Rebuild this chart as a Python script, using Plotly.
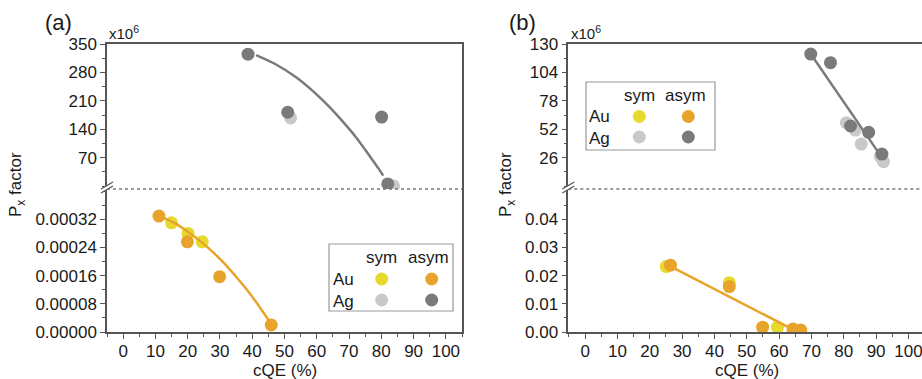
import plotly.graph_objects as go

W, H = 922, 379

# ---------------- data ----------------
# panel (a)
a_au_sym_x = [15.0, 20.1, 24.5]
a_au_sym_y = [0.000310, 0.000280, 0.000256]
a_au_asym_x = [11.1, 19.9, 29.9, 45.9]
a_au_asym_y = [0.000329, 0.000256, 0.000157, 0.0000199]
a_ag_sym_x = [51.9, 83.8]
a_ag_sym_y = [168.0, 0.5]          # x10^6
a_ag_asym_x = [38.7, 51.0, 80.1, 82.0]
a_ag_asym_y = [325.0, 182.0, 170.0, 5.5]
a_au_fit_x = [11.2, 16.0, 20.6, 25.5, 30.9, 35.0, 39.2, 42.5, 45.4]
a_au_fit_y = [0.000330, 0.000309, 0.000281, 0.000246, 0.000199, 0.000157, 0.000110,
              0.0000683, 0.0000292]
a_ag_fit_x = [41.2, 47.0, 53.6, 59.0, 63.9, 68.0, 72.2, 75.0, 77.3, 79.0, 80.6]
a_ag_fit_y = [322.8, 301.4, 268.0, 232.6, 195.0, 159.4, 120.0, 89.8, 64.0, 45.0, 26.0]

# panel (b)
b_au_sym_x = [25.1, 44.6, 59.5]
b_au_sym_y = [0.0232, 0.0175, 0.0017]
b_au_asym_x = [26.4, 44.6, 54.9, 64.3, 66.7]
b_au_asym_y = [0.0237, 0.0161, 0.0017, 0.0011, 0.0007]
b_ag_sym_x = [80.8, 83.6, 85.4, 91.3, 92.3]
b_ag_sym_y = [58.0, 51.3, 38.5, 27.0, 22.3]
b_ag_asym_x = [69.8, 75.9, 82.1, 87.7, 91.8]
b_ag_asym_y = [120.8, 112.9, 55.0, 49.2, 29.3]
b_au_fit_x = [26.4, 63.6]
b_au_fit_y = [0.0233, 0.0013]
b_ag_fit_x = [69.8, 91.6]
b_ag_fit_y = [120.8, 27.0]

x_ticks = list(range(0, 101, 10))
a_low_ticks = [0, 0.00008, 0.00016, 0.00024, 0.00032]
a_low_text = ["0.00000", "0.00008", "0.00016", "0.00024", "0.00032"]
a_up_ticks = [70, 140, 210, 280, 350]
b_low_ticks = [0, 0.01, 0.02, 0.03, 0.04]
b_low_text = ["0.00", "0.01", "0.02", "0.03", "0.04"]
b_up_ticks = [26, 52, 78, 104, 130]

# ---------------- style ----------------
C_YEL = "#e6da2c"
C_ORA = "#e8a42a"
C_LGR = "#c9c9c9"
C_DGR = "#7a7a7a"
C_AX = "#555555"
FONT = "Liberation Sans, Arial, sans-serif"
TXT = "#1a1a1a"
MS = 13

def px(x):
    return x / W

def py(y):
    return 1 - y / H

fig = go.Figure()

def pts(x, y, color, xa, ya):
    fig.add_trace(go.Scatter(x=x, y=y, mode="markers", xaxis=xa, yaxis=ya,
                             marker=dict(size=MS, color=color, line=dict(width=0)),
                             showlegend=False, hoverinfo="skip"))

def fit(x, y, color, xa, ya, spline=False):
    fig.add_trace(go.Scatter(x=x, y=y, mode="lines", xaxis=xa, yaxis=ya,
                             line=dict(color=color, width=2.5,
                                       shape="spline" if spline else "linear",
                                       smoothing=0.6),
                             showlegend=False, hoverinfo="skip"))

# panel a lower (x, y) / upper (x2, y2)
pts(a_au_sym_x, a_au_sym_y, C_YEL, "x", "y")
pts(a_au_asym_x, a_au_asym_y, C_ORA, "x", "y")
fit(a_au_fit_x, a_au_fit_y, C_ORA, "x", "y", spline=True)
pts(a_ag_sym_x, a_ag_sym_y, C_LGR, "x2", "y2")
pts(a_ag_asym_x, a_ag_asym_y, C_DGR, "x2", "y2")
fit(a_ag_fit_x, a_ag_fit_y, C_DGR, "x2", "y2", spline=True)

# panel b lower (x3, y3) / upper (x4, y4)
pts(b_au_sym_x, b_au_sym_y, C_YEL, "x3", "y3")
pts(b_au_asym_x, b_au_asym_y, C_ORA, "x3", "y3")
fit(b_au_fit_x, b_au_fit_y, C_ORA, "x3", "y3")
pts(b_ag_sym_x, b_ag_sym_y, C_LGR, "x4", "y4")
pts(b_ag_asym_x, b_ag_asym_y, C_DGR, "x4", "y4")
fit(b_ag_fit_x, b_ag_fit_y, C_DGR, "x4", "y4")

tickfont = dict(family=FONT, size=17, color=TXT)
AXL = dict(showline=True, linecolor=C_AX, linewidth=1.5, showgrid=False, zeroline=False,
           automargin=False)
minor_x = dict(dtick=5, tick0=0, ticks="outside", ticklen=3, tickcolor=C_AX, tickwidth=1, showgrid=False)
TK = dict(ticks="outside", ticklen=5, tickwidth=1.2, tickcolor=C_AX, tickfont=tickfont,
          ticklabeloverflow="allow")
TKX = dict(TK, ticklabelstandoff=-2)

dom_a = [px(107), px(462)]
dom_b = [px(568.3), 1.0]
dom_up = [py(189), py(44)]
dom_lo = [py(332), py(189)]

fig.update_layout(
    width=W, height=H, margin=dict(l=0, r=0, t=0, b=0, autoexpand=False),
    paper_bgcolor="white", plot_bgcolor="rgba(0,0,0,0)",
    font=dict(family=FONT, size=17, color=TXT),
    showlegend=False,
    xaxis=dict(**AXL, **TKX, domain=dom_a, range=[-5, 105], anchor="y", tickvals=x_ticks,
               minor=minor_x),
    yaxis=dict(**AXL, **TK, domain=dom_lo, range=[0, 0.000406], anchor="x",
               tickvals=a_low_ticks, ticktext=a_low_text,
               minor=dict(dtick=0.00004, tick0=0, ticks="outside", ticklen=3, tickcolor=C_AX),
               mirror=True),
    xaxis2=dict(**AXL, domain=dom_a, range=[-5, 105], anchor="y2", side="top",
                ticks="", showticklabels=False),
    yaxis2=dict(**AXL, **TK, domain=dom_up, range=[-7, 350], anchor="x2", tickvals=a_up_ticks,
                minor=dict(dtick=35, tick0=0, ticks="outside", ticklen=3, tickcolor=C_AX),
                mirror=True),
    xaxis3=dict(**AXL, **TKX, domain=dom_b, range=[-5.2, 104.2], anchor="y3", tickvals=x_ticks,
                minor=minor_x),
    yaxis3=dict(**AXL, **TK, domain=dom_lo, range=[0, 0.0507], anchor="x3",
                tickvals=b_low_ticks, ticktext=b_low_text,
                minor=dict(dtick=0.005, tick0=0, ticks="outside", ticklen=3, tickcolor=C_AX)),
    xaxis4=dict(**AXL, domain=dom_b, range=[-5.2, 104.2], anchor="y4", side="top",
                ticks="", showticklabels=False),
    yaxis4=dict(**AXL, **TK, domain=dom_up, range=[-2.6, 130], anchor="x4", tickvals=b_up_ticks,
                minor=dict(dtick=13, tick0=0, ticks="outside", ticklen=3, tickcolor=C_AX)),
)

shapes = []
annots = []

# dotted break lines
for xa, ya in (("x2", "y2"), ("x4", "y4")):
    shapes.append(dict(type="line", xref=f"{xa} domain", yref=f"{ya} domain",
                       x0=0, x1=1, y0=0, y1=0, line=dict(color="#777777", width=1.5, dash="dot"),
                       layer="above"))

# break marks on the y axis
for xanc in (107, 568.3):
    shapes.append(dict(type="path", xref="paper", yref="paper", xsizemode="pixel",
                       ysizemode="pixel", xanchor=px(xanc), yanchor=py(189),
                       path="M-6,-4 L6,3 L6,7 L-6,0 Z", fillcolor="white",
                       line=dict(width=0), layer="above"))
    for off in (-4, 0):
        shapes.append(dict(type="path", xref="paper", yref="paper", xsizemode="pixel",
                           ysizemode="pixel", xanchor=px(xanc), yanchor=py(189),
                           path=f"M-6,{off} L6,{off + 7}", line=dict(color=C_AX, width=1.2),
                           layer="above"))

# legend boxes
legends = [
    dict(box=(329, 244, 453, 311), sym_x=381.7, asym_x=431.7, hdr_y=257, label_x=343,
         au_y=279, ag_y=300),
    dict(box=(586, 82, 715, 150), sym_x=639.3, asym_x=688.3, hdr_y=95, label_x=599,
         au_y=116.5, ag_y=137),
]
for L in legends:
    x0, y0, x1, y1 = L["box"]
    shapes.append(dict(type="rect", xref="paper", yref="paper", x0=px(x0), x1=px(x1),
                       y0=py(y1), y1=py(y0), line=dict(color="#999999", width=1.2),
                       fillcolor="white", layer="above"))
    for cx, cy, col in ((L["sym_x"], L["au_y"], C_YEL), (L["asym_x"], L["au_y"], C_ORA),
                        (L["sym_x"], L["ag_y"], C_LGR), (L["asym_x"], L["ag_y"], C_DGR)):
        shapes.append(dict(type="circle", xref="paper", yref="paper", xsizemode="pixel",
                           ysizemode="pixel", xanchor=px(cx), yanchor=py(cy),
                           x0=-6.5, x1=6.5, y0=-6.5, y1=6.5, fillcolor=col,
                           line=dict(width=0), layer="above"))
    for t, tx, ty in (("sym", L["sym_x"], L["hdr_y"]), ("asym", L["asym_x"] - 3, L["hdr_y"]),
                      ("Au", L["label_x"], L["au_y"]), ("Ag", L["label_x"], L["ag_y"] + 1)):
        annots.append(dict(text=t, x=px(tx), y=py(ty), xref="paper", yref="paper",
                           xanchor="center", yanchor="middle", showarrow=False,
                           font=dict(family=FONT, size=17, color=TXT)))

# panel labels, multipliers, axis titles
for t, cx in (("(a)", 58), ("(b)", 522)):
    annots.append(dict(text=t, x=px(cx), y=py(23), xref="paper", yref="paper",
                       xanchor="center", yanchor="middle", showarrow=False,
                       font=dict(family=FONT, size=22, color=TXT)))
for lx in (107, 569):
    annots.append(dict(text="x10<sup>6</sup>", x=px(lx), y=py(44), xref="paper", yref="paper",
                       xanchor="left", yanchor="bottom", showarrow=False,
                       font=dict(family=FONT, size=15, color=TXT)))
for cx in (17, 507):
    annots.append(dict(text="P<sub>x</sub> factor", x=px(cx), y=py(185), xref="paper",
                       yref="paper", xanchor="center", yanchor="middle", textangle=-90,
                       showarrow=False, font=dict(family=FONT, size=17, color=TXT)))
for cx in (285, 747):
    annots.append(dict(text="cQE (%)", x=px(cx), y=py(370), xref="paper", yref="paper",
                       xanchor="center", yanchor="middle", showarrow=False,
                       font=dict(family=FONT, size=17, color=TXT)))

fig.update_layout(shapes=shapes, annotations=annots)
fig.write_html("out.html")
